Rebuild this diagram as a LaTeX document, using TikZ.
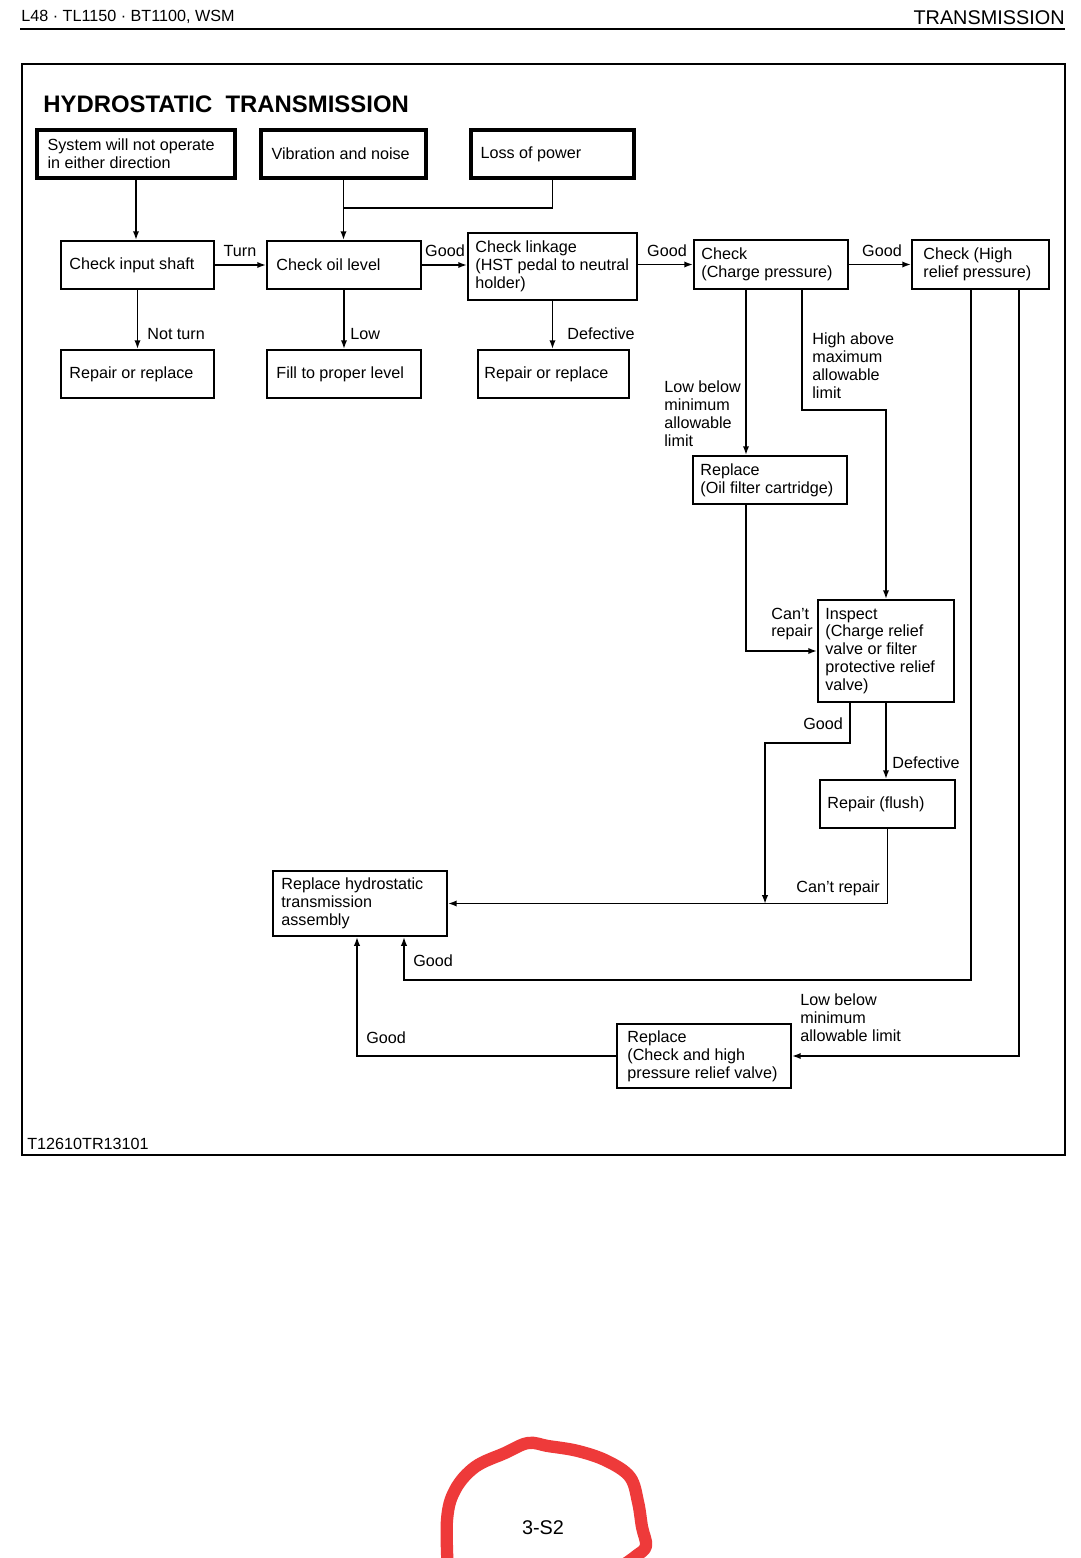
\documentclass[tikz,border=0pt]{standalone}
\usepackage{fontspec}
\setmainfont{Liberation Sans}
\usetikzlibrary{arrows.meta}
\definecolor{ringred}{RGB}{238,58,58}
\newcommand\bodyfs{\fontsize{9.2pt}{10.2pt}\selectfont}
\tikzset{
  bx/.style={draw, line width=1.1pt, inner sep=0pt},
  tbx/.style={bx, line width=2pt},
  txt/.style={font=\bodyfs, align=left, inner sep=0pt, anchor=west},
  lbl/.style={font=\bodyfs, align=left, inner sep=0pt},
  arr/.style={line width=1pt, -{Latex[length=5pt,width=3.6pt]}},
  ln/.style={line width=1pt},
}
\begin{document}
\begin{tikzpicture}[x=0.02cm, y=-0.02cm]
\useasboundingbox (0,0) rectangle (1080,1558);
\fill[white] (0,0) rectangle (1080,1558);

% header
\node[font=\bodyfs, inner sep=0pt, anchor=west] (hdl) at (21,17) {L48 · TL1150 · BT1100, WSM};
\node[font=\fontsize{11.3pt}{12pt}\selectfont, inner sep=0pt, anchor=east] (hdr) at (1065,18) {TRANSMISSION};
\coordinate (rl) at (20,29);
\coordinate (rr) at (1065,29);
\draw[line width=1.1pt] (rl) -- (rr);

% frame
\coordinate (fa) at (22,64);
\coordinate (fb) at (1065,1155);
\draw[line width=1pt] (fa) rectangle (fb);

\node[font=\bfseries\fontsize{13.6pt}{15pt}\selectfont, inner sep=0pt, anchor=west] (title) at (43,104) {HYDROSTATIC\ \ TRANSMISSION};
\node[font=\bodyfs, inner sep=0pt, anchor=west] (code) at (27,1144) {T12610TR13101};
\node[font=\fontsize{11.3pt}{12pt}\selectfont, inner sep=0pt] (page) at (543,1528) {3-S2};

% top row
\node[tbx, minimum width=3.96cm, minimum height=0.96cm] (sys) at (136,154) {};
\node[txt] (sys-t) at ([xshift=0.24cm]sys.west) {System will not operate\\in either direction};
\node[tbx, minimum width=3.30cm, minimum height=0.96cm] (vib) at (343.5,154) {};
\node[txt] (vib-t) at ([xshift=0.24cm]vib.west) {Vibration and noise};
\node[tbx, minimum width=3.26cm, minimum height=0.96cm] (loss) at (552.5,154) {};
\node[txt] (loss-t) at ([xshift=0.22cm]loss.west) {Loss of power};

% second row
\node[bx, minimum width=3.06cm, minimum height=0.96cm] (cis) at (137.5,265) {};
\node[txt] (cis-t) at ([xshift=0.18cm]cis.west) {Check input shaft};
\node[bx, minimum width=3.08cm, minimum height=0.96cm] (col) at (344,265) {};
\node[txt] (col-t) at ([xshift=0.20cm]col.west) {Check oil level};
\node[bx, minimum width=3.38cm, minimum height=1.34cm] (cl) at (552.5,266.5) {};
\node[txt] (cl-t) at ([xshift=0.16cm]cl.west) {Check linkage\\(HST pedal to neutral\\holder)};
\node[bx, minimum width=3.08cm, minimum height=0.98cm] (ccp) at (771,264.5) {};
\node[txt] (ccp-t) at ([xshift=0.16cm]ccp.west) {Check\\(Charge pressure)};
\node[bx, minimum width=2.74cm, minimum height=0.98cm] (chr) at (980.5,264.5) {};
\node[txt] (chr-t) at ([xshift=0.24cm]chr.west) {Check (High\\relief pressure)};

% third row
\node[bx, minimum width=3.06cm, minimum height=0.96cm] (r1) at (137.5,374) {};
\node[txt] (r1-t) at ([xshift=0.18cm]r1.west) {Repair or replace};
\node[bx, minimum width=3.08cm, minimum height=0.96cm] (fill) at (344,374) {};
\node[txt] (fill-t) at ([xshift=0.20cm]fill.west) {Fill to proper level};
\node[bx, minimum width=3.02cm, minimum height=0.96cm] (r2) at (553.5,374) {};
\node[txt] (r2-t) at ([xshift=0.14cm]r2.west) {Repair or replace};

% lower boxes
\node[bx, minimum width=3.08cm, minimum height=0.96cm] (rof) at (770,480) {};
\node[txt] (rof-t) at ([xshift=0.16cm]rof.west) {Replace\\(Oil filter cartridge)};
\node[bx, minimum width=2.72cm, minimum height=2.04cm] (insp) at (886,651) {};
\node[txt] (insp-t) at ([xshift=0.16cm]insp.west) {Inspect\\(Charge relief\\valve or filter\\protective relief\\valve)};
\node[bx, minimum width=2.70cm, minimum height=0.96cm] (flush) at (887.5,804) {};
\node[txt] (flush-t) at ([xshift=0.16cm]flush.west) {Repair (flush)};
\node[bx, minimum width=3.48cm, minimum height=1.30cm] (rht) at (360,903.5) {};
\node[txt] (rht-t) at ([xshift=0.18cm]rht.west) {Replace hydrostatic\\transmission\\assembly};
\node[bx, minimum width=3.48cm, minimum height=1.28cm] (rch) at (704,1056) {};
\node[txt] (rch-t) at ([xshift=0.22cm]rch.west) {Replace\\(Check and high\\pressure relief valve)};

% helper coordinates
\coordinate (j1) at (343.5,208);
\coordinate (c1) at ([xshift=-0.50cm]ccp.south);
\coordinate (c2) at ([xshift=0.62cm]ccp.south);
\coordinate (c3) at ([xshift=-0.48cm]rof.south);
\coordinate (c4) at ([xshift=-0.72cm]insp.south);
\coordinate (j2) at (765,904);
\coordinate (c5) at ([xshift=-0.19cm]chr.south);
\coordinate (c6) at ([xshift=0.88cm]rht.south);
\coordinate (c7) at ([xshift=0.77cm]chr.south);
\coordinate (c8) at ([xshift=-0.06cm]rht.south);

% connectors
\draw[arr] (sys.south) -- (sys.south |- cis.north);
\draw[arr] (vib.south) -- (vib.south |- col.north);
\draw[ln] (loss.south) |- (j1);
\draw[arr] (cis.east) -- (col.west);
\draw[arr] (col.east) -- (col.east -| cl.west);
\draw[arr] (ccp.west -| cl.east) -- (ccp.west);
\draw[arr] (ccp.east) -- (chr.west);
\draw[arr] (cis.south) -- (r1.north);
\draw[arr] (col.south) -- (fill.north);
\draw[arr] (cl.south) -- (cl.south |- r2.north);
\draw[arr] (c1) -- (c1 |- rof.north);
\draw[arr] (c2) -- (c2 |- 0,410) -| (insp.north);
\draw[arr] (c3) |- (insp.west);
\draw[arr] (c4) -- (c4 |- 0,743) -| (j2);
\draw[arr] (insp.south) -- (insp.south |- flush.north);
\draw[arr] (flush.south) |- (rht.east);
\draw[arr] (c5) -- (c5 |- 0,980) -| (c6);
\draw[arr] (c7) |- (rch.east);
\draw[arr] (rch.west) -| (c8);

% labels
\node[lbl] (l1) at (240,251) {Turn};
\node[lbl] (l2) at (445,251) {Good};
\node[lbl] (l3) at (667,251) {Good};
\node[lbl] (l4) at (882,251) {Good};
\node[lbl, anchor=west] (l5) at (147,334) {Not turn};
\node[lbl, anchor=west] (l6) at (350,334) {Low};
\node[lbl, anchor=west] (l7) at (567,334) {Defective};
\node[lbl, anchor=west] (l8) at (664,414) {Low below\\minimum\\allowable\\limit};
\node[lbl, anchor=west] (l9) at (812,365.5) {High above\\maximum\\allowable\\limit};
\node[lbl, anchor=west] (l10) at (771,624) {Can't\\repair};
\node[lbl, anchor=west] (l11) at (803,724) {Good};
\node[lbl, anchor=west] (l12) at (892,763) {Defective};
\node[lbl, anchor=west] (l13) at (796,888) {Can't repair};
\node[lbl, anchor=west] (l14) at (413,961) {Good};
\node[lbl, anchor=west] (l15) at (800,1018) {Low below\\minimum\\allowable limit};
\node[lbl, anchor=west] (l16) at (366,1038) {Good};

% red hand-drawn ring
\draw[ringred, line width=7pt, line cap=round, line join=round]
  plot[smooth, tension=0.6] coordinates {(448,1575) (447,1520) (455,1490) (475,1467) (505,1453) (528,1443) (548,1446) (578,1451) (607,1461) (630,1477) (638,1502) (642,1527) (646,1546) (636,1556) (622,1566)};
\end{tikzpicture}
\end{document}
